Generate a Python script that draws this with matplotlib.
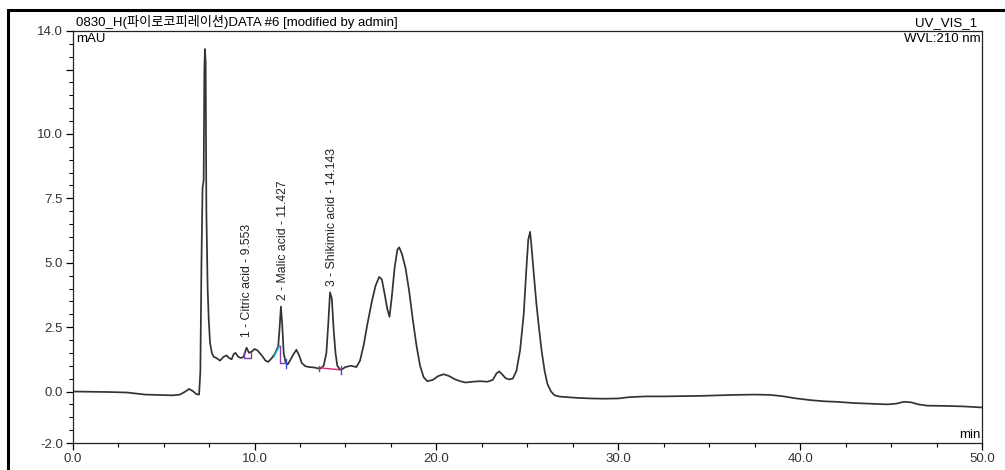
import matplotlib.pyplot as plt
from matplotlib.patches import Rectangle

# chromatogram trace (min, mAU)
time_min = [0.0, 1.0, 2.0, 3.0, 3.5, 4.0, 4.5, 5.0, 5.5, 5.9, 6.2, 6.4, 6.6, 6.8, 6.95,
            7.02, 7.08, 7.14, 7.2, 7.24, 7.27, 7.31, 7.35, 7.42, 7.48, 7.55, 7.65, 7.75,
            7.9, 8.1, 8.3, 8.46, 8.6, 8.74, 8.85, 8.95, 9.1, 9.25, 9.4, 9.56, 9.7, 9.84,
            10.0, 10.15, 10.4, 10.6, 10.75, 10.95, 11.12, 11.3, 11.38, 11.45, 11.52, 11.6,
            11.7, 11.82, 11.95, 12.1, 12.3, 12.45, 12.6, 12.8, 13.0, 13.3, 13.6, 13.8,
            13.95, 14.05, 14.15, 14.25, 14.35, 14.45, 14.55, 14.7, 14.85, 15.0, 15.3, 15.6,
            15.8, 16.0, 16.2, 16.45, 16.65, 16.85, 17.0, 17.15, 17.3, 17.42, 17.55, 17.7,
            17.85, 17.95, 18.1, 18.3, 18.5, 18.7, 18.9, 19.1, 19.3, 19.5, 19.8, 20.1, 20.4,
            20.7, 21.0, 21.3, 21.6, 22.0, 22.4, 22.8, 23.1, 23.3, 23.45, 23.6, 23.8, 24.0,
            24.2, 24.4, 24.6, 24.8, 24.95, 25.05, 25.15, 25.22, 25.35, 25.5, 25.65, 25.8,
            25.95, 26.1, 26.3, 26.5, 26.8, 27.2, 27.8, 28.5, 29.2, 30.0, 30.6, 31.5, 32.5,
            33.5, 34.5, 35.5, 36.5, 37.5, 38.3, 39.0, 39.7, 40.5, 41.3, 42.0, 43.0, 44.0,
            44.8, 45.3, 45.7, 46.1, 46.5, 47.0, 48.0, 49.0, 50.0]
signal = [0.0, -0.01, -0.02, -0.04, -0.08, -0.12, -0.13, -0.14, -0.15, -0.12, 0.0, 0.1,
          0.02, -0.1, -0.12, 0.8, 5.0, 7.9, 8.2, 12.5, 13.3, 12.8, 7.0, 4.0, 2.8, 1.9,
          1.5, 1.35, 1.3, 1.2, 1.35, 1.4, 1.3, 1.25, 1.45, 1.5, 1.35, 1.3, 1.35, 1.7, 1.5,
          1.55, 1.65, 1.6, 1.4, 1.2, 1.15, 1.3, 1.47, 1.75, 2.5, 3.3, 2.6, 1.5, 1.15,
          1.05, 1.2, 1.4, 1.62, 1.4, 1.1, 0.98, 0.95, 0.93, 0.88, 1.0, 1.5, 2.6, 3.85,
          3.6, 2.4, 1.5, 1.0, 0.85, 0.88, 0.95, 1.0, 0.95, 1.2, 1.8, 2.6, 3.5, 4.1, 4.45,
          4.35, 3.8, 3.2, 2.9, 3.7, 4.8, 5.5, 5.6, 5.35, 4.8, 3.9, 2.8, 1.8, 1.0, 0.55,
          0.4, 0.45, 0.6, 0.67, 0.6, 0.48, 0.4, 0.35, 0.38, 0.4, 0.38, 0.45, 0.7, 0.78,
          0.68, 0.52, 0.47, 0.5, 0.8, 1.6, 3.0, 4.8, 5.9, 6.2, 5.7, 4.6, 3.4, 2.4, 1.5,
          0.8, 0.3, 0.0, -0.15, -0.2, -0.22, -0.25, -0.27, -0.28, -0.27, -0.22, -0.19,
          -0.19, -0.18, -0.17, -0.15, -0.13, -0.12, -0.13, -0.18, -0.26, -0.33, -0.38,
          -0.4, -0.45, -0.48, -0.5, -0.47, -0.4, -0.42, -0.5, -0.55, -0.56, -0.58, -0.62]

# identified peaks
peak_labels = ["1 - Citric acid - 9.553", "2 - Malic acid - 11.427", "3 - Shikimic acid - 14.143"]
peak_label_x = [9.56, 11.58, 14.24]
peak_label_y = [2.1, 3.55, 4.1]

# integration baselines drawn by the software
citric_base_t = [9.42, 9.42, 9.82, 9.82]
citric_base_v = [1.55, 1.3, 1.3, 1.55]
malic_rise_t = [11.05, 11.38]
malic_rise_v = [1.33, 1.78]
malic_drop_t = [11.38, 11.38, 11.72]
malic_drop_v = [1.78, 1.1, 1.1]
shik_base_t = [13.55, 14.75]
shik_base_v = [0.92, 0.84]

x_ticks = [0, 10, 20, 30, 40, 50]
y_ticks = [-2.0, 0.0, 2.5, 5.0, 7.5, 10.0, 12.5, 14.0]
y_tick_labels = ["-2.0", "0.0", "2.5", "5.0", "7.5", "10.0", "", "14.0"]

plt.rcParams['font.family'] = ['Liberation Sans', 'Noto Sans CJK KR', 'DejaVu Sans']

fig = plt.figure(figsize=(10.05, 4.7), dpi=100)
ax = fig.add_axes([72.7 / 1005, 27 / 470, (982 - 72.7) / 1005, (443 - 31) / 470])

ax.plot(time_min, signal, color='#333333', lw=1.25)

ax.plot(citric_base_t, citric_base_v, color='#7b3fb0', lw=1)
ax.plot(malic_rise_t, malic_rise_v, color='#20c0c8', lw=1)
ax.plot(malic_drop_t, malic_drop_v, color='#7b3fb0', lw=1)
ax.plot([11.72, 11.72], [0.9, 1.25], color='#3050d0', lw=1)
ax.plot(shik_base_t, shik_base_v, color='#e0286e', lw=1)
ax.plot([14.75, 14.75], [0.68, 1.0], color='#3050d0', lw=1)
ax.plot([13.55, 13.55], [0.8, 1.0], color='#7b3fb0', lw=1)

for lab, px, py in zip(peak_labels, peak_label_x, peak_label_y):
    ax.text(px, py, lab, rotation=90, ha='center', va='bottom', fontsize=8.8,
            color='#222222', family=['Liberation Sans Narrow', 'Liberation Sans'])

ax.set_xlim(0, 50)
ax.set_ylim(-2, 14)
ax.set_xticks(x_ticks)
ax.set_xticklabels([f"{v:.1f}" for v in x_ticks])
ax.set_xticks([2.5 + 5 * i for i in range(10)] + [5 + 10 * i for i in range(5)], minor=True)
ax.set_yticks(y_ticks)
ax.set_yticklabels(y_tick_labels)
ax.set_yticks([-1.5 + 0.5 * i for i in range(31)], minor=True)
ax.tick_params(axis='both', which='major', direction='out', length=5, width=0.9,
               labelsize=9.5, labelcolor='#333333', pad=2)
ax.tick_params(axis='both', which='minor', direction='out', length=3, width=0.8)
for s in ax.spines.values():
    s.set_linewidth(0.9)
    s.set_color('#222222')

ax.text(0.004, 1.004, "0830_H(파이로코피레이션)DATA #6 [modified by admin]",
        transform=ax.transAxes, ha='left', va='bottom', fontsize=9.5,
        family=['Liberation Sans', 'Noto Sans CJK KR'])
ax.text(0.004, 0.996, "mAU", transform=ax.transAxes, ha='left', va='top', fontsize=9.5)
ax.text(0.995, 1.004, "UV_VIS_1", transform=ax.transAxes, ha='right', va='bottom', fontsize=9.5)
ax.text(0.998, 0.996, "WVL:210 nm", transform=ax.transAxes, ha='right', va='top', fontsize=9.5)
ax.text(0.998, 0.006, "min", transform=ax.transAxes, ha='right', va='bottom', fontsize=9.5)

# outer frame of the report page
fig.patches.append(Rectangle((8 / 1005, -0.1), 1.2, 1.1 - 10 / 470, transform=fig.transFigure,
                             fill=False, lw=2.2, edgecolor='black'))

fig.savefig("out.png", dpi=100)
